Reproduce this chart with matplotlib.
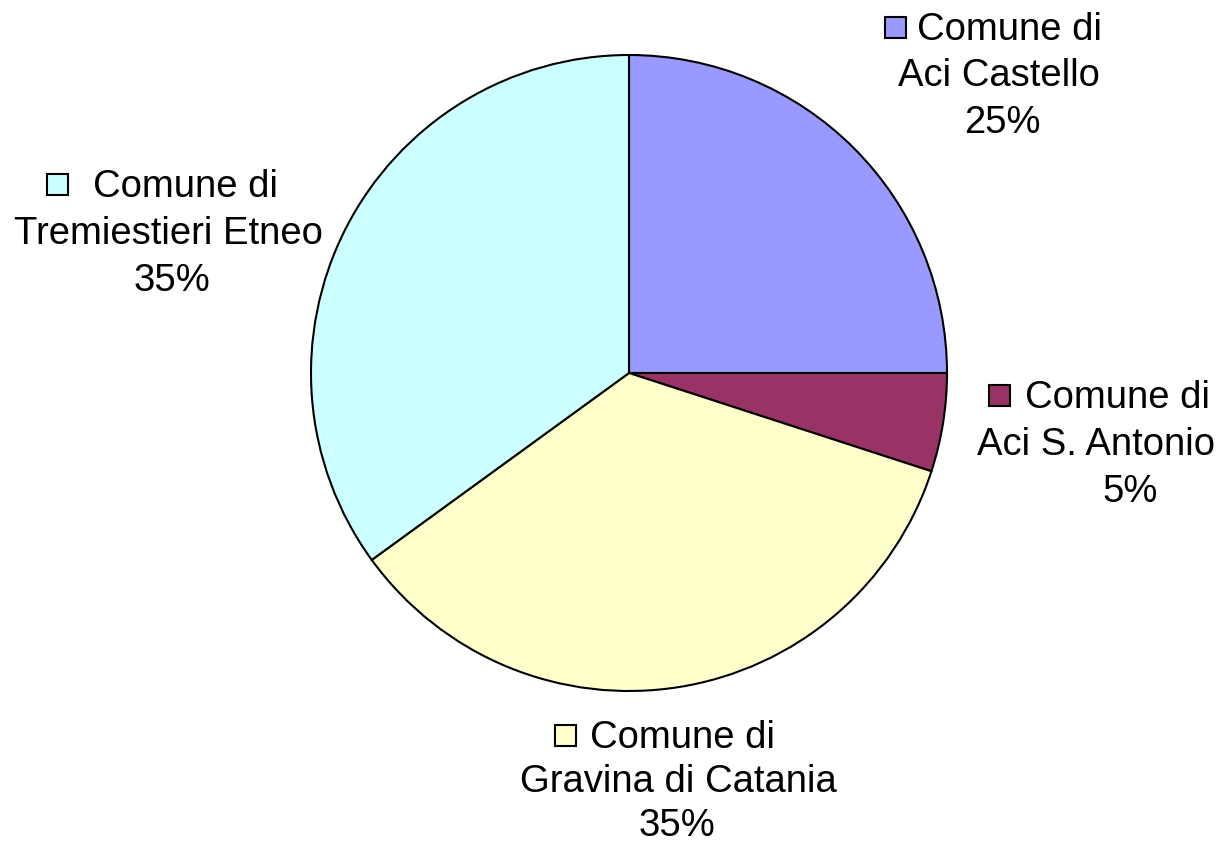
import matplotlib.pyplot as plt
from matplotlib.patches import Rectangle

plt.rcParams['font.family'] = ['Liberation Sans', 'DejaVu Sans']

names = ['Aci Castello', 'Aci S. Antonio', 'Gravina di Catania', 'Tremiestieri Etneo']
shares = [25, 5, 35, 35]
colors = ['#9999FF', '#993366', '#FFFFCC', '#CCFFFF']

# label layout in pixel coords (y down):
# square left, text left, first baseline, line step, name center x, percent center x
label_pos = {
    'Aci Castello': (885, 917, 40, 46.5, 999, 1002),
    'Aci S. Antonio': (989, 1025, 408, 47, 1096, 1130),
    'Gravina di Catania': (555, 590, 748, 44, 678, 677),
    'Tremiestieri Etneo': (47, 93, 197, 47, 168, 172),
}

fig = plt.figure(figsize=(12.23, 8.45), dpi=100)
ax = fig.add_axes([0, 0, 1, 1])

# inverted y axis: visual clockwise from the top = data ccw from -90
ax.pie(shares, colors=colors, startangle=-90, counterclock=True,
       center=(629, 374), radius=318,
       wedgeprops=dict(edgecolor='black', linewidth=1.5))
ax.set_xlim(0, 1223)
ax.set_ylim(845, 0)
ax.set_aspect('equal')
ax.axis('off')

fs = 27.5
for name, share, col in zip(names, shares, colors):
    sx, tx, by, lh, cx, px = label_pos[name]
    sq = 21
    ax.add_patch(Rectangle((sx, by - 22), sq, sq, facecolor=col,
                           edgecolor='black', linewidth=1.5))
    ax.text(tx, by, 'Comune di', fontsize=fs, ha='left', va='baseline')
    ax.text(cx, by + lh, name, fontsize=fs, ha='center', va='baseline')
    ax.text(px, by + 2 * lh, f'{share}%', fontsize=fs, ha='center', va='baseline')

fig.savefig('out.png', dpi=100)
